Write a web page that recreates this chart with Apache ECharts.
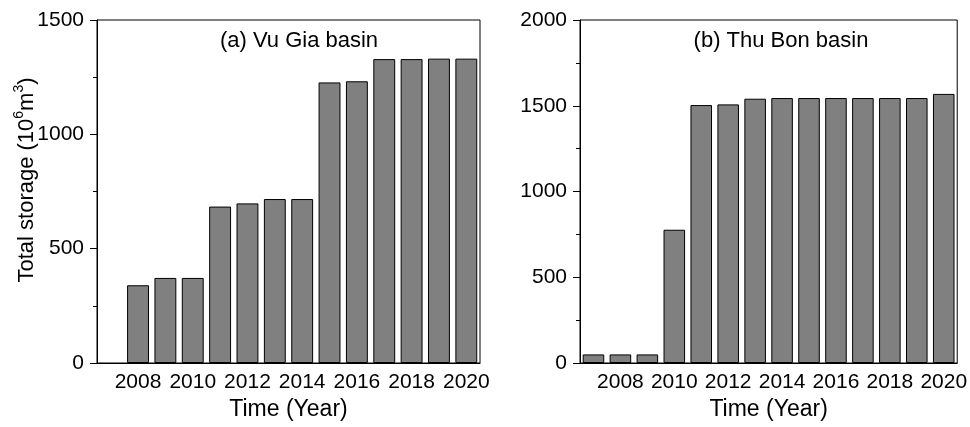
<!DOCTYPE html>
<html>
<head>
<meta charset="utf-8">
<script src="https://cdn.jsdelivr.net/npm/echarts@6/dist/echarts.min.js"></script>
<style>
  html, body { margin: 0; padding: 0; background: #fff; }
  #chart { width: 970px; height: 427px; }
</style>
</head>
<body>
<div id="chart"></div>
<script>
// Years on the horizontal axis of both panels
const years = ['2007', '2008', '2009', '2010', '2011', '2012', '2013',
               '2014', '2015', '2016', '2017', '2018', '2019', '2020'];

// Total reservoir storage (10^6 m^3) per basin; no reservoir storage in Vu Gia in 2007
const vuGiaStorage = [null, 340, 372, 372, 684, 698, 717, 717, 1227, 1232, 1329, 1329, 1331, 1331];
const thuBonStorage = [50, 50, 50, 777, 1504, 1508, 1541, 1545, 1545, 1545, 1545, 1545, 1545, 1569];

// Y axis ranges and tick steps
const vuGiaRange = { max: 1500, step: 500 };
const thuBonRange = { max: 2000, step: 500 };

const panelTitles = ['(a) Vu Gia basin', '(b) Thu Bon basin'];
const xName = 'Time (Year)';
const yName = '{t|Total storage (10}{s|6}{t|m}{s|3}{t|)}';

const FONT = '"Liberation Sans", Arial, sans-serif';
const isEven = (i) => Number(years[i]) % 2 === 0;

function xAxes(gridIndex) {
  return [
    {
      type: 'category', gridIndex, data: years,
      name: xName, nameLocation: 'middle', nameGap: 35,
      nameTextStyle: { fontFamily: FONT, fontSize: 23, color: '#000' },
      axisLine: { lineStyle: { color: '#000', width: 1 } },
      axisTick: { alignWithLabel: true, length: 6, interval: (i) => isEven(i), lineStyle: { color: '#000' } },
      axisLabel: { interval: (i) => isEven(i), margin: 9, fontFamily: FONT, fontSize: 21, color: '#000' },
      splitLine: { show: false }
    },
    {
      // short ticks at odd years
      type: 'category', gridIndex, data: years, position: 'bottom',
      axisLine: { show: false },
      axisTick: { alignWithLabel: true, length: 3, interval: (i) => !isEven(i), lineStyle: { color: '#000' } },
      axisLabel: { show: false },
      splitLine: { show: false }
    }
  ];
}

function yAxis(gridIndex, range) {
  return {
    type: 'value', gridIndex, min: 0, max: range.max, interval: range.step,
    axisLine: { show: true, lineStyle: { color: '#000', width: 1 } },
    axisTick: { show: true, length: 7, lineStyle: { color: '#000' } },
    minorTick: { show: true, splitNumber: 2, length: 4, lineStyle: { color: '#000' } },
    axisLabel: { margin: 13, fontFamily: FONT, fontSize: 21, color: '#000', formatter: (v) => String(v) },
    splitLine: { show: false }
  };
}

function barSeries(idx, data) {
  return {
    type: 'bar', xAxisIndex: idx * 2, yAxisIndex: idx, data,
    barCategoryGap: '20%',
    itemStyle: { color: '#808080', borderColor: '#000', borderWidth: 1 },
    emphasis: { disabled: true }
  };
}

const titleStyle = (text) => ({ text, fontFamily: FONT, fontSize: 22, fill: '#000', align: 'center', verticalAlign: 'middle' });

const chart = echarts.init(document.getElementById('chart'), null, { renderer: 'canvas' });
chart.setOption({
  animation: false,
  backgroundColor: '#fff',
  grid: [
    { left: 97, top: 20, width: 383, height: 343, show: true, borderColor: '#000', borderWidth: 1, containLabel: false },
    { left: 580, top: 20, width: 380, height: 343, show: true, borderColor: '#000', borderWidth: 1, containLabel: false }
  ],
  xAxis: [...xAxes(0), ...xAxes(1)],
  yAxis: [yAxis(0, vuGiaRange), yAxis(1, thuBonRange)],
  series: [barSeries(0, vuGiaStorage), barSeries(1, thuBonStorage)],
  graphic: [
    { type: 'text', x: 299, y: 41, style: titleStyle(panelTitles[0]) },
    { type: 'text', x: 781, y: 41, style: titleStyle(panelTitles[1]) },
    {
      type: 'text', x: 25, y: 180, rotation: Math.PI / 2,
      style: {
        text: yName, align: 'center', verticalAlign: 'middle',
        rich: {
          t: { fontFamily: FONT, fontSize: 22, fill: '#000', lineHeight: 26, verticalAlign: 'bottom' },
          s: { fontFamily: FONT, fontSize: 14, fill: '#000', lineHeight: 26, verticalAlign: 'top' }
        }
      }
    }
  ]
});
</script>
</body>
</html>
